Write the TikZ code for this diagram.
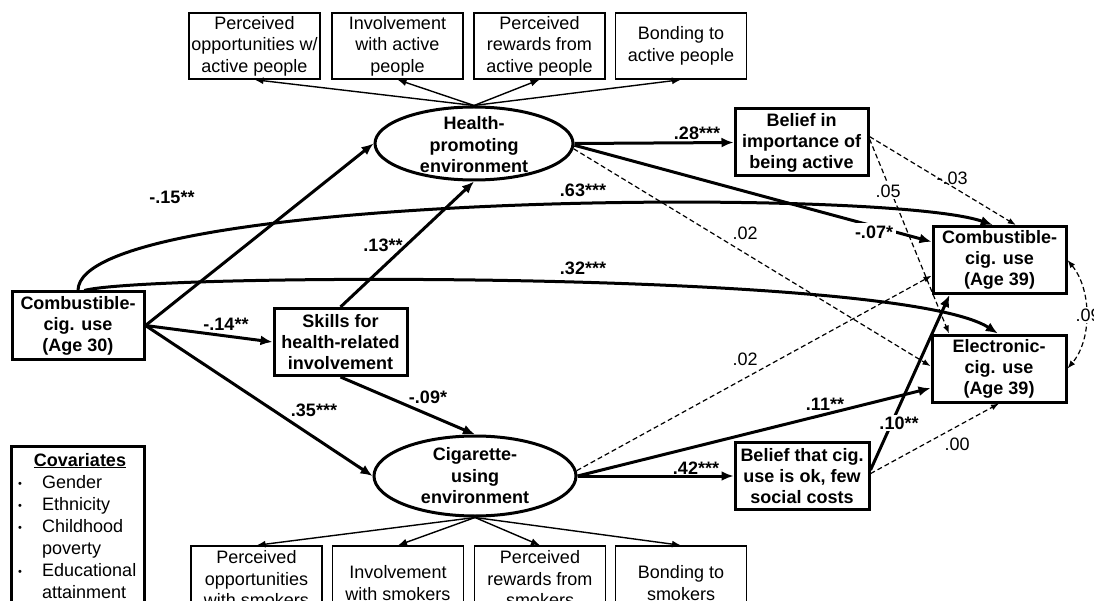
\documentclass[tikz,border=0pt]{standalone}
\usepackage{fontspec}
\setmainfont{Liberation Sans}
\usetikzlibrary{arrows.meta,shapes.geometric}
\begin{document}
\begin{tikzpicture}[x=1pt,y=-1pt,
  indbox/.style={draw, line width=1.4pt, minimum width=131pt, minimum height=66pt, align=center, inner sep=0pt, font=\fontsize{18}{21.5}\selectfont},
  bigbox/.style={draw, line width=3pt, minimum width=133pt, minimum height=67pt, align=center, inner sep=0pt, font=\bfseries\fontsize{18}{21}\selectfont},
  ell/.style={draw, ellipse, line width=3pt, inner sep=0pt},
  elltext/.style={align=center, inner sep=0pt, font=\bfseries\fontsize{18}{21.5}\selectfont},
  boxtext/.style={align=center, inner sep=0pt, font=\fontsize{18}{21.5}\selectfont},
  thickarr/.style={line width=3pt, -{Latex[length=12pt,width=10pt]}},
  thinarr/.style={line width=1.4pt, -{Latex[length=9pt,width=7pt]}},
  dasharr/.style={line width=1.2pt, dash pattern=on 5pt off 3pt, -{Latex[length=8pt,width=6pt]}},
  dashboth/.style={line width=1.2pt, dash pattern=on 5pt off 3pt, {Latex[length=8pt,width=6pt]}-{Latex[length=8pt,width=6pt]}},
  blab/.style={inner sep=1pt, font=\bfseries\fontsize{18}{20}\selectfont},
  rlab/.style={inner sep=1pt, font=\fontsize{18}{20}\selectfont},
  covitem/.style={anchor=base west, inner sep=0pt, font=\fontsize{18}{20}\selectfont},
  covbullet/.style={anchor=base, inner sep=0pt, font=\fontsize{11}{12}\selectfont}
]
\useasboundingbox (0,0) rectangle (1094,601);

% indicator boxes (top)
\node[indbox] (t1) at (254.5,46) {Perceived\\opportunities w/\\active people};
\node[indbox] (t2) at (397.5,46) {Involvement\\with active\\people};
\node[indbox] (t3) at (539.5,46) {Perceived\\rewards from\\active people};
\node[indbox] (t4) at (681,46) {Bonding to\\active people};

% indicator boxes (bottom)
\node[indbox] (b1) at (256.5,579) {Perceived\\opportunities\\with smokers};
\node[indbox] (b2) at (398,579) {};
\node[boxtext] (b2t) at (398,583) {Involvement\\with smokers};
\node[indbox] (b3) at (540,579) {Perceived\\rewards from\\smokers};
\node[indbox] (b4) at (681,579) {};
\node[boxtext] (b4t) at (681,583) {Bonding to\\smokers};

% ellipses
\node[ell, minimum width=198pt, minimum height=73pt] (hpe) at (474,143.5) {};
\node[elltext] (hpet) at (474,145) {Health-\\promoting\\environment};
\node[ell, minimum width=202pt, minimum height=80pt] (cue) at (475,476) {};
\node[elltext] (cuet) at (475,476) {Cigarette-\\using\\environment};

% main boxes
\node[bigbox, minimum width=132pt] (age30) at (78,325.5) {Combustible-\\cig. use\\(Age 30)};
\node[bigbox] (skills) at (340.5,342) {Skills for\\health-related\\involvement};
\node[bigbox] (bia) at (801.5,142.5) {Belief in\\importance of\\being active};
\node[bigbox, minimum width=134pt] (bsc) at (802,476) {Belief that cig.\\use is ok, few\\social costs};
\node[bigbox] (comb39) at (999.5,260) {Combustible-\\cig. use\\(Age 39)};
\node[bigbox, minimum width=134pt] (elec39) at (999,368.5) {Electronic-\\cig. use\\(Age 39)};

% covariates
\node[draw, line width=3pt, minimum width=133pt, minimum height=200pt, anchor=north west, inner sep=0pt] (cov) at (10,445) {};
\node[anchor=base, inner sep=0pt, font=\bfseries\fontsize{18}{20}\selectfont] (covt) at (80,466) {\underline{Covariates}};
\node[covbullet] (cb1) at (20,487) {•};
\node[covitem] (c1) at (42,488) {Gender};
\node[covbullet] (cb2) at (20,509) {•};
\node[covitem] (c2) at (42,510) {Ethnicity};
\node[covbullet] (cb3) at (20,531) {•};
\node[covitem] (c3) at (42,532) {Childhood};
\node[covitem] (c4) at (42,554) {poverty};
\node[covbullet] (cb5) at (20,575) {•};
\node[covitem] (c5) at (42,576) {Educational};
\node[covitem] (c6) at (42,598) {attainment};

% measurement arrows
\draw[thinarr] (hpe.north) -- (t1.south);
\draw[thinarr] (hpe.north) -- (t2.south);
\draw[thinarr] (hpe.north) -- (t3.south);
\draw[thinarr] (hpe.north) -- (t4.south);
\draw[thinarr] (cue.south) -- (b1.north);
\draw[thinarr] (cue.south) -- (b2.north);
\draw[thinarr] (cue.south) -- (b3.north);
\draw[thinarr] (cue.south) -- (b4.north);

% structural paths
\draw[thickarr] (age30.north) .. controls (78,192) and (885,187) .. (comb39.101);
\draw[thickarr] (age30.80) .. controls (150,273) and (900,270) .. (elec39.92);
\draw[thickarr] (age30.east) -- (hpe.west);
\draw[thickarr] (age30.east) -- (skills.west);
\draw[thickarr] (age30.east) -- (cue.west);
\draw[thickarr] (skills.north) -- (hpe.south);
\draw[thickarr] (skills.south) -- (cue.north);
\draw[thickarr] (hpe.east) -- (bia.west);
\draw[thickarr] (hpe.-1) -- (comb39.165);
\draw[dasharr] (hpe.-3) -- (elec39.178);
\draw[dasharr] (bia.5) -- (comb39.65);
\draw[dasharr] (bia.3) -- (elec39.145);
\draw[thickarr] (cue.east) -- (bsc.west);
\draw[thickarr] (cue.east) -- (elec39.196);
\draw[dasharr] (cue.3) -- (comb39.193);
\draw[thickarr] (bsc.5) -- (comb39.215);
\draw[dasharr] (bsc.2) -- (elec39.south);
\draw[dashboth] (comb39.east) .. controls (1092,290) and (1092,340) .. (elec39.east);

% labels
\node[blab] (l15) at (172,197) {-.15**};
\node[blab] (l13) at (383,245) {.13**};
\node[blab] (l14) at (226,324) {-.14**};
\node[blab] (l35) at (314,410) {.35***};
\node[blab] (l09) at (428,397) {-.09*};
\node[blab] (l28) at (697,133) {.28***};
\node[blab] (l63) at (583,190) {.63***};
\node[blab] (l32) at (583,268) {.32***};
\node[blab, fill=white, inner sep=3pt] (l07) at (874,232) {-.07*};
\node[rlab] (l02a) at (745,233) {.02};
\node[rlab] (l03) at (952,178) {-.03};
\node[rlab, fill=white, inner sep=2pt] (l05) at (888,191) {.05};
\node[rlab] (l02b) at (745,359) {.02};
\node[blab] (l11) at (825,404) {.11**};
\node[blab] (l42) at (696,468) {.42***};
\node[blab, fill=white, inner sep=2pt] (l10) at (899,423) {.10**};
\node[rlab] (l00) at (957,444) {.00};
\node[rlab, fill=white, inner sep=2pt] (lc09) at (1088,315) {.09};
\end{tikzpicture}
\end{document}
